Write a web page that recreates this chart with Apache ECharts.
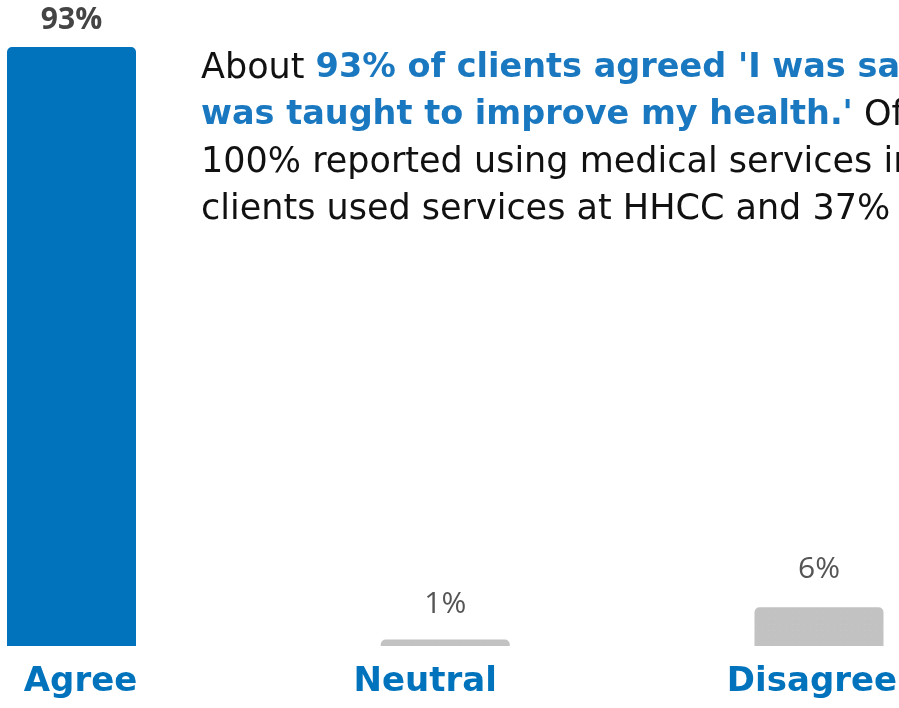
<!DOCTYPE html>
<html>
<head>
<meta charset="utf-8">
<script src="https://cdn.jsdelivr.net/npm/echarts@6/dist/echarts.min.js"></script>
<style>
  html, body { margin: 0; padding: 0; background: #ffffff; }
  #chart { width: 899px; height: 708px; }
</style>
</head>
<body>
<div id="chart"></div>
<script>
// Survey responses: share of clients by answer
const categories = ['Agree', 'Neutral', 'Disagree'];
const shares = [93, 1, 6];
const valueLabels = ['93%', '1%', '6%'];

const BLUE = '#0073bc';
const GREY = '#c2c2c2';

// horizontal nudges of the category names and label gaps above the bars
const labelPadding = [[0, 0, 0, 18], [0, 40, 0, 0], [0, 14, 0, 0]];
const labelGap = [12, 20, 23];

const chart = echarts.init(document.getElementById('chart'));

const barData = shares.map((v, i) => ({
  value: v,
  itemStyle: i === 0
    ? { color: BLUE }
    : {
        color: GREY,
        decal: {
          symbol: 'rect',
          symbolSize: 0.5,
          color: 'rgba(255,255,255,0.35)',
          dashArrayX: [[1, 5]],
          dashArrayY: [1, 5],
          rotation: 0
        }
      },
  label: i === 0
    ? { fontWeight: 'bold', color: '#444444', distance: labelGap[i] }
    : { fontWeight: 'normal', color: '#555555', distance: labelGap[i] }
}));

const categoryData = categories.map((c, i) => ({
  value: c,
  textStyle: { padding: labelPadding[i] }
}));

chart.setOption({
  animation: false,
  grid: { left: 71.5, right: 80, top: 2, bottom: 62, containLabel: false, outerBoundsMode: 'none' },
  xAxis: {
    type: 'category',
    data: categoryData,
    boundaryGap: false,
    axisLine: { show: false },
    axisTick: { show: false },
    splitLine: { show: false },
    axisLabel: {
      margin: 19,
      color: BLUE,
      fontFamily: 'DejaVu Sans',
      fontWeight: 'bold',
      fontSize: 34
    }
  },
  yAxis: {
    type: 'value',
    min: 0,
    max: 100,
    show: false,
    splitLine: { show: false }
  },
  series: [{
    type: 'bar',
    data: barData,
    barWidth: 129,
    itemStyle: { borderRadius: [5, 5, 0, 0] },
    label: {
      show: true,
      position: 'top',
      fontFamily: 'Open Sans',
      fontSize: 30,
      formatter: (p) => valueLabels[p.dataIndex]
    }
  }],
  graphic: [{
    type: 'text',
    left: 201,
    top: 51,
    silent: true,
    style: {
      text: [
        '{n|About }{b|93% of clients agreed \'I was satisfied with}',
        '{b|was taught to improve my health.\'}{n| Of those,}',
        '{n|100% reported using medical services in the}',
        '{n|clients used services at HHCC and 37% used}'
      ].join('\n'),
      rich: {
        n: { fontFamily: 'DejaVu Sans', fontSize: 35, fontWeight: 'normal', fill: '#111111', lineHeight: 47 },
        b: { fontFamily: 'DejaVu Sans', fontSize: 33.5, fontWeight: 'bold', fill: '#1a78c0', lineHeight: 47 }
      }
    }
  }]
});
</script>
</body>
</html>
